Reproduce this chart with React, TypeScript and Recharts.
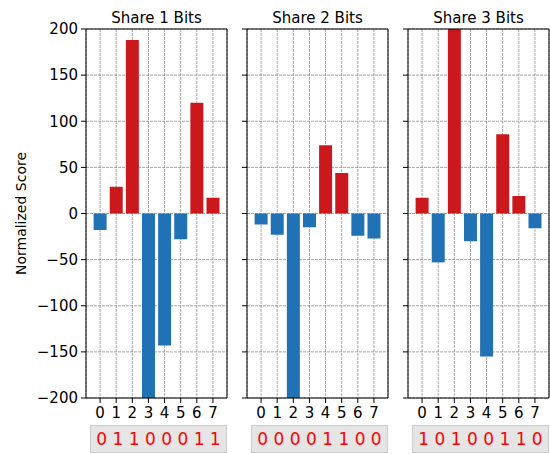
import React from "react";
import { BarChart, Bar, Cell, XAxis, YAxis, CartesianGrid, Label } from "recharts";

// bit positions along each panel's x axis
const bitIndex = ["0", "1", "2", "3", "4", "5", "6", "7"];

// normalized score per bit, one array per share
const share1Scores = [-18, 29, 188, -200, -143, -28, 120, 17];
const share2Scores = [-12, -23, -200, -15, 74, 44, -24, -27];
const share3Scores = [17, -53, 200, -30, -155, 86, 19, -16];

// recovered bits shown under each panel
const share1Bits = [0, 1, 1, 0, 0, 0, 1, 1];
const share2Bits = [0, 0, 0, 0, 1, 1, 0, 0];
const share3Bits = [1, 0, 1, 0, 0, 1, 1, 0];

const yTicks = [-200, -150, -100, -50, 0, 50, 100, 150, 200];

const RED = "#cb181d";
const BLUE = "#2171b5";
const PLOT_W = 141;
const PLOT_TOP = 29;
const PLOT_BOTTOM = 398;

const fmt = (v: number) => (v < 0 ? "\u2212" + Math.abs(v) : String(v));

function Panel({
  title,
  scores,
  bits,
  plotLeft,
  first,
}: {
  title: string;
  scores: number[];
  bits: number[];
  plotLeft: number;
  first: boolean;
}) {
  const axisW = first ? 86 : 6;
  const data = scores.map((s, i) => ({ bit: bitIndex[i], score: s }));

  return (
    <>
      <div style={{ position: "absolute", left: plotLeft - axisW, top: 0 }}>
        <BarChart
          width={axisW + PLOT_W + 2}
          height={454}
          data={data}
          margin={{ top: PLOT_TOP - 1, right: 1, bottom: 0, left: 0 }}
          barCategoryGap="10%"
        >
          <CartesianGrid stroke="#808080" strokeOpacity={0.7} strokeDasharray="3 1" />
          <XAxis
            dataKey="bit"
            height={454 - PLOT_BOTTOM}
            padding={{ left: 6, right: 6 }}
            tickSize={5}
            tickMargin={4}
            interval={0}
            tick={{ fontSize: 15, fill: "#000" }}
            axisLine={{ stroke: "#000" }}
            tickLine={{ stroke: "#000" }}
          />
          {/* top spine, carries the panel title */}
          <XAxis
            xAxisId="top"
            orientation="top"
            dataKey="bit"
            height={1}
            padding={{ left: 6, right: 6 }}
            tick={false}
            tickLine={false}
            axisLine={{ stroke: "#000" }}
          >
            <Label value={title} position="top" offset={5} fill="#000" fontSize={15} />
          </XAxis>
          <YAxis
            type="number"
            domain={[-200, 200]}
            ticks={yTicks}
            allowDataOverflow
            width={axisW}
            tickSize={5}
            tickMargin={3}
            interval={0}
            tickFormatter={first ? fmt : () => ""}
            tick={{ fontSize: 15, fill: "#000" }}
            axisLine={{ stroke: "#000" }}
            tickLine={{ stroke: "#000" }}
          >
            {first && (
              <Label
                content={() => (
                  <text
                    transform={`translate(21,${(PLOT_TOP + PLOT_BOTTOM) / 2}) rotate(-90)`}
                    textAnchor="middle"
                    dominantBaseline="central"
                    fontSize={14}
                    fill="#000"
                  >
                    Normalized Score
                  </text>
                )}
              />
            )}
          </YAxis>
          {/* right spine */}
          <YAxis
            yAxisId="right"
            orientation="right"
            type="number"
            domain={[-200, 200]}
            width={1}
            tick={false}
            tickLine={false}
            axisLine={{ stroke: "#000" }}
          />
          <Bar dataKey="score" isAnimationActive={false}>
            {data.map((d, i) => (
              <Cell key={i} fill={d.score >= 0 ? RED : BLUE} />
            ))}
          </Bar>
        </BarChart>
      </div>
      <div
        style={{
          position: "absolute",
          left: plotLeft + 4,
          top: 425,
          width: 137,
          height: 28,
          boxSizing: "border-box",
          background: "#e5e5e5",
          border: "1px solid #cccccc",
          color: "#ff0000",
          fontSize: 17,
          lineHeight: "26px",
          textAlign: "center",
          whiteSpace: "pre",
        }}
      >
        {bits.join(" ")}
      </div>
    </>
  );
}

export default function App() {
  return (
    <div
      style={{
        position: "absolute",
        left: 0,
        top: 0,
        width: 550,
        height: 454,
        background: "#fff",
        fontFamily: "'DejaVu Sans', sans-serif",
        overflow: "hidden",
      }}
    >
      <Panel title="Share 1 Bits" scores={share1Scores} bits={share1Bits} plotLeft={86} first />
      <Panel title="Share 2 Bits" scores={share2Scores} bits={share2Bits} plotLeft={247} first={false} />
      <Panel title="Share 3 Bits" scores={share3Scores} bits={share3Bits} plotLeft={408} first={false} />
    </div>
  );
}
